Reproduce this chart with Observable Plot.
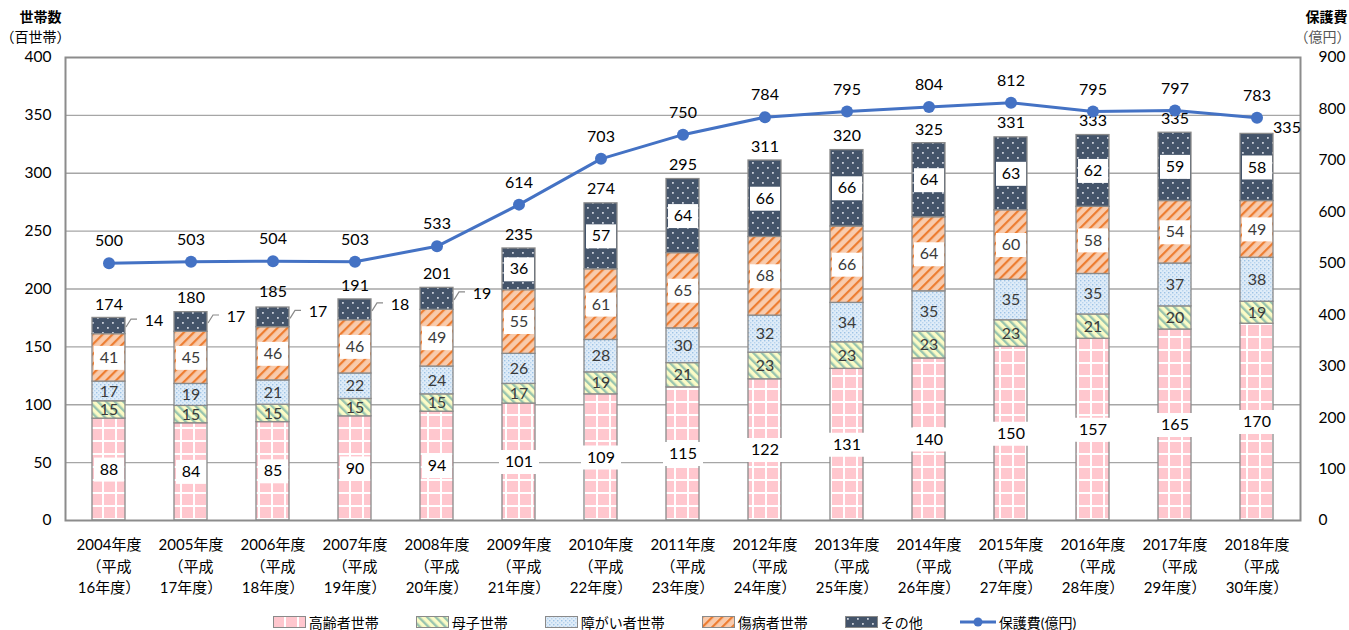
<!DOCTYPE html>
<html><head><meta charset="utf-8">
<script src="https://cdn.jsdelivr.net/npm/d3@7"></script>
<script src="https://cdn.jsdelivr.net/npm/@observablehq/plot@0.6"></script>
<style>
body{margin:0;background:#fff;font-family:Lato,"Noto Sans CJK JP",sans-serif;}
#chart{height:605px;}
#legend{display:flex;justify-content:center;align-items:center;gap:37px;height:25px;font-size:14px;color:#000;margin-top:4px;}
.item{display:flex;align-items:center;gap:3px;}
.item svg{display:block;}
</style></head><body>
<svg width="0" height="0" style="position:absolute">
<defs>
<pattern id="pat-elder" patternUnits="userSpaceOnUse" width="13" height="13">
 <rect width="13" height="13" fill="#ffc7ce"/>
 <rect x="11" width="2" height="13" fill="#fff"/>
 <rect y="11" width="13" height="2" fill="#fff"/>
</pattern>
<pattern id="pat-mother" patternUnits="userSpaceOnUse" width="6" height="6" patternTransform="rotate(-45)">
 <rect width="6" height="6" fill="#fbfbc6"/>
 <rect width="2.4" height="6" fill="#98c4ae"/>
</pattern>
<pattern id="pat-dis" patternUnits="userSpaceOnUse" width="4" height="4">
 <rect width="4" height="4" fill="#dfecf8"/>
 <rect x="0" y="0" width="1.4" height="1.4" fill="#9dc3e6"/>
 <rect x="2" y="2" width="1.4" height="1.4" fill="#b8d4ee"/>
</pattern>
<pattern id="pat-sick" patternUnits="userSpaceOnUse" width="7" height="7" patternTransform="rotate(45)">
 <rect width="7" height="7" fill="#f8cbad"/>
 <rect width="2.2" height="7" fill="#ed7d31"/>
</pattern>
<pattern id="pat-other" patternUnits="userSpaceOnUse" width="10" height="10">
 <rect width="10" height="10" fill="#44546a"/>
 <rect x="2" y="2" width="1.8" height="1.8" fill="#c9ced8"/>
 <rect x="7" y="7" width="1.8" height="1.8" fill="#c9ced8"/>
</pattern>
</defs></svg>
<div id="chart"></div>
<div id="legend"></div>
<script>
const years = ["2004","2005","2006","2007","2008","2009","2010","2011","2012","2013","2014","2015","2016","2017","2018"];
const xLabels = ["2004年度\n（平成\n16年度）","2005年度\n（平成\n17年度）","2006年度\n（平成\n18年度）","2007年度\n（平成\n19年度）","2008年度\n（平成\n20年度）","2009年度\n（平成\n21年度）","2010年度\n（平成\n22年度）","2011年度\n（平成\n23年度）","2012年度\n（平成\n24年度）","2013年度\n（平成\n25年度）","2014年度\n（平成\n26年度）","2015年度\n（平成\n27年度）","2016年度\n（平成\n28年度）","2017年度\n（平成\n29年度）","2018年度\n（平成\n30年度）"];
const categories = ["高齢者世帯","母子世帯","障がい者世帯","傷病者世帯","その他"];
const elderly  = [88,84,85,90,94,101,109,115,122,131,140,150,157,165,170];
const mother   = [15,15,15,15,15,17,19,21,23,23,23,23,21,20,19];
const disabled = [17,19,21,22,24,26,28,30,32,34,35,35,35,37,38];
const sick     = [41,45,46,46,49,55,61,65,68,66,64,60,58,54,49];
const other    = [14,17,17,18,19,36,57,64,66,66,64,63,62,59,58];
const totals   = [174,180,185,191,201,235,274,295,311,320,325,331,333,335,335];
const cost     = [500,503,504,503,533,614,703,750,784,795,804,812,795,797,783];
const leftTicks  = [0,50,100,150,200,250,300,350,400];
const rightTicks = [0,100,200,300,400,500,600,700,800,900];
const leftMax = 400, rightMax = 900;

const patternIds = ["pat-elder","pat-mother","pat-dis","pat-sick","pat-other"];
const series = [elderly, mother, disabled, sick, other];
const rows = years.flatMap((y, i) => categories.map((c, k) => ({year: y, cat: c, k, value: series[k][i]})));
const totalRows = years.map((y, i) => ({year: y, total: totals[i]}));
const costRows = years.map((y, i) => ({year: y, cost: cost[i]}));
const toLeft = v => v * leftMax / rightMax;
const lastYear = years[years.length - 1];

const boxed = d => d.k === 0 || d.k === 3 || (d.k === 4 && d.value >= 30);
const outside = d => d.k === 4 && d.value < 30;
const box = w => ({draw(ctx) { ctx.rect(-w / 2, -12, w, 24); }});
const leader = {draw(ctx) { ctx.moveTo(17, 1); ctx.lineTo(22, -7); ctx.lineTo(28, -7); }};
const st = o => Plot.stackY({x: "year", y: "value", z: "cat", ...o});
const font = 'Lato, "Noto Sans CJK JP", sans-serif';

const chart = Plot.plot({
  width: 1349, height: 605,
  marginTop: 57, marginBottom: 85, marginLeft: 65, marginRight: 49,
  x: {domain: years, paddingInner: 0.6, paddingOuter: 0.3, axis: null},
  y: {domain: [0, leftMax], axis: null},
  color: {type: "identity"},
  style: {fontFamily: font, fontSize: "14px", color: "#000", background: "#fff"},
  marks: [
    Plot.gridY(leftTicks.slice(1, -1), {stroke: "#a6a6a6", strokeOpacity: 1, strokeWidth: 1.3}),
    Plot.barY(rows, st({fill: d => `url(#${patternIds[d.k]})`, stroke: "#8a8a8a", strokeWidth: 1.3})),
    Plot.frame({stroke: "#8c8c8c", strokeWidth: 2}),
    // label boxes
    Plot.dot(rows, st({symbol: box(30), r: 5, fill: d => boxed(d) && d.value < 100 ? "#fff" : "none", stroke: "none"})),
    Plot.dot(rows, st({symbol: box(40), r: 5, fill: d => boxed(d) && d.value >= 100 ? "#fff" : "none", stroke: "none"})),
    Plot.text(rows, st({text: d => outside(d) ? "" : String(d.value), fill: d => (d.k === 0 || d.k === 4) ? "#000" : "#3a3a3a", fontSize: 16})),
    Plot.dot(rows, st({symbol: leader, r: 5, fill: "none", stroke: d => outside(d) ? "#8a8a8a" : "none", strokeWidth: 1.2})),
    Plot.text(rows, st({text: d => outside(d) ? String(d.value) : "", dx: 45, dy: -5, fontSize: 16, fill: "#000"})),
    // totals
    Plot.text(totalRows, {x: "year", y: "total", text: d => d.year === lastYear ? "" : String(d.total), dy: -14, fontSize: 16, fill: "#000"}),
    Plot.text(totalRows, {x: "year", y: "total", text: d => d.year === lastYear ? String(d.total) : "", dx: 30, dy: -5, fontSize: 16, fill: "#000"}),
    // cost line
    Plot.line(costRows, {x: "year", y: d => toLeft(d.cost), stroke: "#4472c4", strokeWidth: 3}),
    Plot.dot(costRows, {x: "year", y: d => toLeft(d.cost), r: 6, fill: "#4472c4", stroke: "none"}),
    Plot.text(costRows, {x: "year", y: d => toLeft(d.cost), text: d => String(d.cost), dy: -22, fontSize: 16, fill: "#000"}),
    // axes
    Plot.axisY(leftTicks, {anchor: "left", tickSize: 0, tickPadding: 14, fontSize: 15.5, label: null, fill: "#000"}),
    Plot.axisY(rightTicks.map(toLeft), {anchor: "right", tickSize: 0, tickPadding: 18, fontSize: 15.5, label: null, fill: "#000", tickFormat: d => String(Math.round(d * rightMax / leftMax))}),
    Plot.text(years, {x: d => d, text: (d, i) => xLabels[i], frameAnchor: "bottom", lineAnchor: "top", dy: 14, lineHeight: 1.45, fontSize: 15, fill: "#000"}),
    // axis titles
    Plot.text(["世帯数"], {text: d => d, frameAnchor: "top-left", textAnchor: "middle", lineAnchor: "middle", dx: -25, dy: -40, fontSize: 14, fontWeight: "bold", fill: "#000"}),
    Plot.text(["（百世帯）"], {text: d => d, frameAnchor: "top-left", textAnchor: "middle", lineAnchor: "middle", dx: -30, dy: -20, fontSize: 14, fill: "#000"}),
    Plot.text(["保護費"], {text: d => d, frameAnchor: "top-right", textAnchor: "middle", lineAnchor: "middle", dx: 26, dy: -40, fontSize: 14, fontWeight: "bold", fill: "#000"}),
    Plot.text(["（億円）"], {text: d => d, frameAnchor: "top-right", textAnchor: "middle", lineAnchor: "middle", dx: 22, dy: -20, fontSize: 14, fill: "#555"})
  ]
});
document.getElementById("chart").appendChild(chart);

const legend = document.getElementById("legend");
categories.forEach((c, k) => {
  const it = document.createElement("div");
  it.className = "item";
  it.innerHTML = `<svg width="33" height="12"><rect x="0.5" y="0.5" width="32" height="11" fill="url(#${patternIds[k]})" stroke="#8a8a8a"/></svg><span>${c}</span>`;
  legend.appendChild(it);
});
const li = document.createElement("div");
li.className = "item";
li.innerHTML = `<svg width="36" height="12"><line x1="0" y1="6" x2="36" y2="6" stroke="#4472c4" stroke-width="3"/><circle cx="18" cy="6" r="4.5" fill="#4472c4"/></svg><span>保護費(億円)</span>`;
legend.appendChild(li);
</script>
</body></html>
